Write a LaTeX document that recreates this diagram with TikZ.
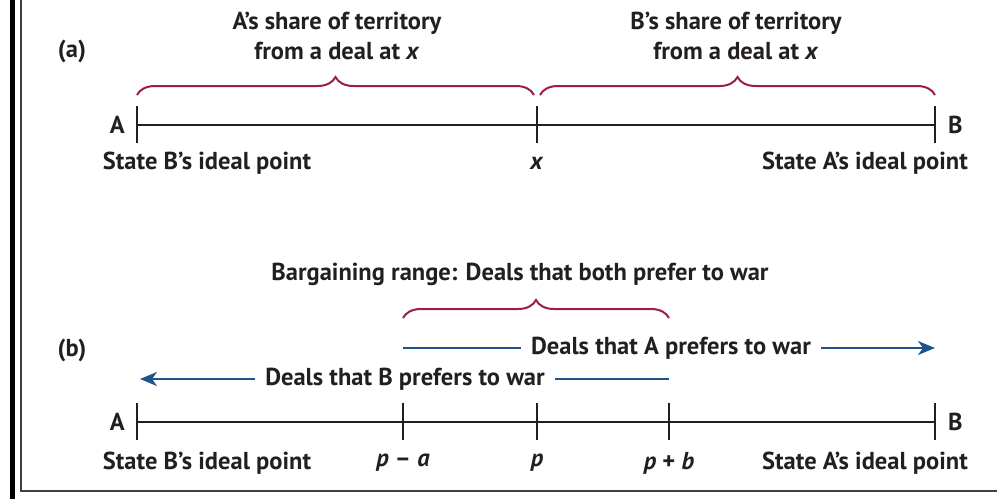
\documentclass[tikz,border=0pt]{standalone}
\usepackage{fontspec}
\setmainfont{PT Sans}
\usetikzlibrary{arrows.meta,decorations.pathreplacing,positioning}
\definecolor{accolade}{RGB}{158,27,75}
\definecolor{bleu}{RGB}{30,84,138}
\definecolor{encre}{RGB}{35,31,32}
\tikzset{
  lbl/.style={font=\bfseries\fontsize{24.5}{30}\selectfont, text=encre, inner sep=0pt, align=center},
  axe/.style={line width=2.2pt, encre},
  tick/.style={line width=2.4pt, encre},
  accol/.style={decorate, decoration={brace, amplitude=18pt}, line width=2pt, accolade},
  fleche/.style={line width=2pt, bleu},
  bout/.style={-{Stealth[length=17pt,width=14pt,inset=5pt]}},
}
\begin{document}
\begin{tikzpicture}[x=1pt,y=-1pt]
            \useasboundingbox (0,0) rectangle (997,499);
            % Le cadre (gauche et bas)
            \fill[black] (10,0) rectangle (15,499);
            \draw[line width=1.2pt, black!75] (21,0) -- (21,491) -- (997,491);

            % Partie (a)
            \node[lbl] (lblA) at (72,51) {(a)};
            \node[lbl] (partA) at (337,36) {A’s share of territory\\from a deal at \textit{x}};
            \node[lbl] (partB) at (736,36) {B’s share of territory\\from a deal at \textit{x}};

            \coordinate (aA) at (137,125);
            \coordinate (aX) at (537,125);
            \coordinate (aB) at (935,125);
            \coordinate (acc1) at (137,95);
            \coordinate (acc2) at (534,95);
            \coordinate (acc3) at (540,95);
            \coordinate (acc4) at (935,95);

            \draw[accol] (acc1) -- (acc2);
            \draw[accol] (acc3) -- (acc4);
            \draw[axe] (aA) -- (aB);
            \foreach \t in {aA,aX,aB}
                \draw[tick] ([yshift=19pt]\t) -- ([yshift=-18pt]\t);

            \node[lbl, left=12pt of aA] (nA) {A};
            \node[lbl, right=13pt of aB] (nB) {B};
            \node[lbl] (idB) at (207,163) {State B’s ideal point};
            \node[lbl] (ptX) at (537,163) {\textit{x}};
            \node[lbl] (idA) at (865,163) {State A’s ideal point};

            % Partie (b)
            \node[lbl] (marge) at (520,274) {Bargaining range: Deals that both prefer to war};
            \coordinate (acc5) at (403,318);
            \coordinate (acc6) at (669,318);
            \draw[accol] (acc5) -- (acc6);

            \node[lbl] (lblB) at (72,350) {(b)};

            % Les deux fleches bleues
            \coordinate (dA0) at (403,348);
            \coordinate (dA1) at (935,348);
            \node[lbl, inner xsep=10pt] (prefA) at (671,348) {Deals that A prefers to war};
            \draw[fleche] (dA0) -- (prefA.west);
            \draw[fleche, bout] (prefA.east) -- (dA1);

            \coordinate (dB0) at (669,379);
            \coordinate (dB1) at (140,379);
            \node[lbl, inner xsep=10pt] (prefB) at (405,379) {Deals that B prefers to war};
            \draw[fleche] (dB0) -- (prefB.east);
            \draw[fleche, bout] (prefB.west) -- (dB1);

            % L'axe du bas
            \coordinate (bA) at (137,422);
            \coordinate (bPa) at (403,422);
            \coordinate (bP) at (537,422);
            \coordinate (bPb) at (669,422);
            \coordinate (bB) at (935,422);
            \draw[axe] (bA) -- (bB);
            \foreach \t in {bA,bPa,bP,bPb,bB}
                \draw[tick] ([yshift=19pt]\t) -- ([yshift=-18pt]\t);

            \node[lbl, left=12pt of bA] (mA) {A};
            \node[lbl, right=13pt of bB] (mB) {B};
            \node[lbl] (idB2) at (207,463) {State B’s ideal point};
            \node[lbl] (pMa) at (403,463) {\textit{p} – \textit{a}};
            \node[lbl] (pM) at (537,463) {\textit{p}};
            \node[lbl] (pMb) at (669,463) {\textit{p} + \textit{b}};
            \node[lbl] (idA2) at (865,463) {State A’s ideal point};
        \end{tikzpicture}
\end{document}
